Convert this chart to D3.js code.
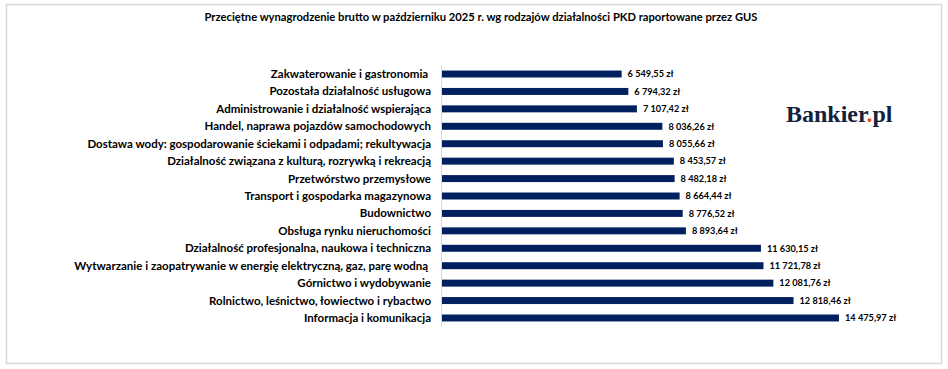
<!DOCTYPE html>
<html><head><meta charset="utf-8">
<script src="https://cdn.jsdelivr.net/npm/d3@7"></script>
<style>
html,body{margin:0;padding:0;background:#fff;}
svg{display:block;}
text{white-space:pre;}
</style></head>
<body>
<svg id="chart" width="948" height="369"></svg>
<script>
const title = "Przeciętne wynagrodzenie brutto w październiku 2025 r. wg rodzajów działalności PKD raportowane przez GUS";
const categories = [
  "Zakwaterowanie i gastronomia ",
  "Pozostała działalność usługowa",
  "Administrowanie i działalność wspierająca",
  "Handel, naprawa pojazdów samochodowych",
  "Dostawa wody: gospodarowanie ściekami i odpadami; rekultywacja",
  "Działalność związana z kulturą, rozrywką i rekreacją",
  "Przetwórstwo przemysłowe",
  "Transport i gospodarka magazynowa",
  "Budownictwo",
  "Obsługa rynku nieruchomości",
  "Działalność profesjonalna, naukowa i techniczna",
  "Wytwarzanie i zaopatrywanie w energię elektryczną, gaz, parę wodną ",
  "Górnictwo i wydobywanie",
  "Rolnictwo, leśnictwo, łowiectwo i rybactwo",
  "Informacja i komunikacja"
];
const values = [6549.55, 6794.32, 7107.42, 8036.26, 8055.66, 8453.57, 8482.18, 8664.44, 8776.52, 8893.64, 11630.15, 11721.78, 12081.76, 12818.46, 14475.97];

const svg = d3.select("#chart");
const font = "Lato, 'Noto Sans', sans-serif";

// border
svg.append("rect").attr("x",6.5).attr("y",4.5).attr("width",935).attr("height",359)
  .attr("fill","#fff").attr("stroke","#d9d9d9").attr("stroke-width",1.5);

svg.append("text").attr("x",481).attr("y",21).attr("text-anchor","middle")
  .attr("font-family",font).attr("font-weight","bold").attr("font-size",11.2)
  .attr("fill","#000").text(title);

const x = d3.scaleLinear().domain([0, 14475.97]).range([442, 839]);
const y = d3.scaleBand().domain(categories).range([65.3, 326.7]).paddingInner(0.6).paddingOuter(0.3);

const loc = d3.formatLocale({decimal: ",", thousands: "\u00a0", grouping: [3], currency: ["", " zł"]});
const fmt = loc.format(",.2f");

// axis line
svg.append("line").attr("x1",441.5).attr("x2",441.5).attr("y1",65).attr("y2",327)
  .attr("stroke","#d9d9d9").attr("stroke-width",1);

const g = svg.append("g");
g.selectAll("rect.bar").data(values).join("rect").attr("class","bar")
  .attr("x", x(0)).attr("y",(d,i)=>y(categories[i]))
  .attr("width", d=>x(d)-x(0)).attr("height", y.bandwidth())
  .attr("fill","#002060");

g.selectAll("text.cat").data(categories).join("text").attr("class","cat")
  .attr("x",431).attr("y",d=>y(d)+y.bandwidth()/2).attr("dy","0.35em")
  .attr("text-anchor","end").attr("font-family",font).attr("font-weight","bold")
  .attr("font-size",11.5).attr("fill","#000").text(d=>d);

g.selectAll("text.val").data(values).join("text").attr("class","val")
  .attr("x",d=>x(d)+6).attr("y",(d,i)=>y(categories[i])+y.bandwidth()/2).attr("dy","0.35em")
  .attr("font-family",font).attr("font-weight","bold")
  .attr("font-size",9.2).attr("fill","#000").text(d=>fmt(d)+" zł");

// logo
const logo = svg.append("text").attr("x",786).attr("y",122)
  .attr("font-family","'Liberation Serif', 'DejaVu Serif', serif").attr("font-weight","bold")
  .attr("font-size",24).attr("fill","#14213d");
logo.append("tspan").text("Bankier");
logo.append("tspan").attr("fill","#e8501e").text(".");
logo.append("tspan").text("pl");
</script>
</body></html>
